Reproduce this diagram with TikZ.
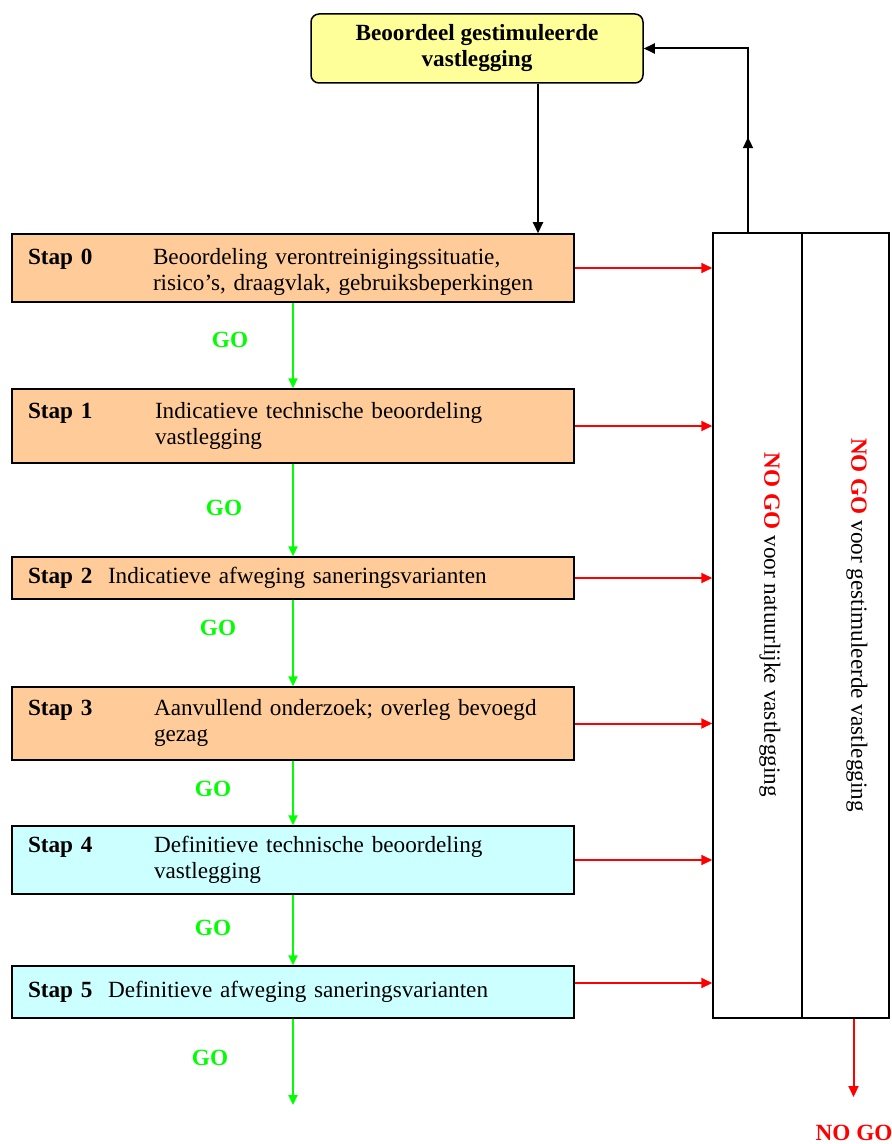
\documentclass[tikz,border=0pt]{standalone}
\usepackage{fontspec}
\setmainfont{Liberation Serif}
\usetikzlibrary{arrows.meta,decorations.markings}

\definecolor{oranje}{HTML}{FFCC99}
\definecolor{lichtblauw}{HTML}{CCFFFF}
\definecolor{geel}{HTML}{FFFF99}
\definecolor{gogroen}{HTML}{00FF00}
\definecolor{nogorood}{HTML}{FF0000}

\newcommand{\stap}[3]{\makebox[#2][l]{\textbf{Stap #1}}\begin{tabular}[t]{@{}l@{}}#3\end{tabular}}

\begin{document}
\begin{tikzpicture}[x=0.5pt, y=-0.5pt,
    font=\fontsize{11.6}{13}\selectfont,
    stapbox/.style={draw, line width=0.75pt, minimum width=281pt, text width=265pt,
                    inner xsep=8pt, align=left},
    kolom/.style={draw, line width=0.75pt, minimum height=392.5pt},
    gopijl/.style={draw=gogroen, line width=0.9pt, -{Triangle[length=5pt,width=4.5pt]}},
    nogopijl/.style={draw=nogorood, line width=1pt, -{Triangle[length=5.5pt,width=5pt]}},
    zwart/.style={draw=black, line width=1pt, -{Triangle[length=5.5pt,width=5pt]}},
    golabel/.style={text=gogroen, font=\fontsize{11.6}{13}\selectfont\bfseries}]
  \useasboundingbox (0,0) rectangle (891,1144);

  % bovenste blok
  \node[draw, line width=0.75pt, rounded corners=4pt, fill=geel, minimum width=166pt,
        minimum height=34.5pt, align=center, font=\fontsize{11.6}{13}\selectfont\bfseries]
        (beo) at (477,48.5) {Beoordeel gestimuleerde\\vastlegging};

  % stappen
  \node[stapbox, fill=oranje, minimum height=34pt, inner ysep=0pt] (st0) at (293,268)
       {\rule{0pt}{13.1pt}\stap{0}{62.5pt}{Beoordeling verontreinigingssituatie,\\risico's, draagvlak, gebruiksbeperkingen}};
  \node[stapbox, fill=oranje, minimum height=37pt] (st1) at (293,426)
       {\stap{1}{63.5pt}{Indicatieve technische beoordeling\\vastlegging}};
  \node[stapbox, fill=oranje, minimum height=21pt] (st2) at (293,578)
       {\stap{2}{40pt}{Indicatieve afweging saneringsvarianten}};
  \node[stapbox, fill=oranje, minimum height=36.5pt] (st3) at (293,723.5)
       {\stap{3}{63pt}{Aanvullend onderzoek; overleg bevoegd\\gezag}};
  \node[stapbox, fill=lichtblauw, minimum height=34pt] (st4) at (293,860)
       {\stap{4}{63pt}{Definitieve technische beoordeling\\vastlegging}};
  \node[stapbox, fill=lichtblauw, minimum height=26pt] (st5) at (293,992)
       {\stap{5}{40pt}{Definitieve afweging saneringsvarianten}};

  % NO GO kolommen
  \node[kolom, minimum width=44.5pt] (colA) at (757.5,625.5) {};
  \node[kolom, minimum width=43.5pt] (colB) at (845.5,625.5) {};
  \node[rotate=-90] (tekstA) at (770,625)
       {\textcolor{nogorood}{\textbf{NO GO}} voor natuurlijke vastlegging};
  \node[rotate=-90] (tekstB) at (857,625)
       {\textcolor{nogorood}{\textbf{NO GO}} voor gestimuleerde vastlegging};

  % GO pijlen
  \foreach \a/\b in {0/1,1/2,2/3,3/4,4/5}
    \draw[gopijl] (st\a) -- (st\b);
  \coordinate (einde) at (293,1105);
  \draw[gopijl] (st5) -- (einde);
  \foreach \n/\x/\y in {0/230/340, 1/224/508, 2/218/628, 3/213/789, 4/213/928, 5/210/1058}
    \node[golabel] (go\n) at (\x,\y) {GO};

  % NO GO pijlen
  \foreach \s in {0,...,4}
    \draw[nogopijl] (st\s.east) -- (st\s.east -| colA.west);
  \draw[nogopijl] ([yshift=4.5pt]st5.east) -- ([yshift=4.5pt]st5.east -| colA.west);
  \coordinate (nogoeinde) at (853.5,1097);
  \draw[nogopijl] (853.5,0 |- colB.south) -- (nogoeinde);
  \node[text=nogorood, font=\fontsize{11.6}{13}\selectfont\bfseries] (nogo) at (854,1133) {NO GO};

  % terugkoppeling
  \draw[zwart] (538,0 |- beo.south) -- (538,0 |- st0.north);
  \draw[zwart, postaction={decorate},
        decoration={markings, mark=at position 0.33 with {\arrow{Triangle[length=5.5pt,width=5pt]}}}]
       (748,0 |- colA.north) |- (beo.east);
\end{tikzpicture}
\end{document}
